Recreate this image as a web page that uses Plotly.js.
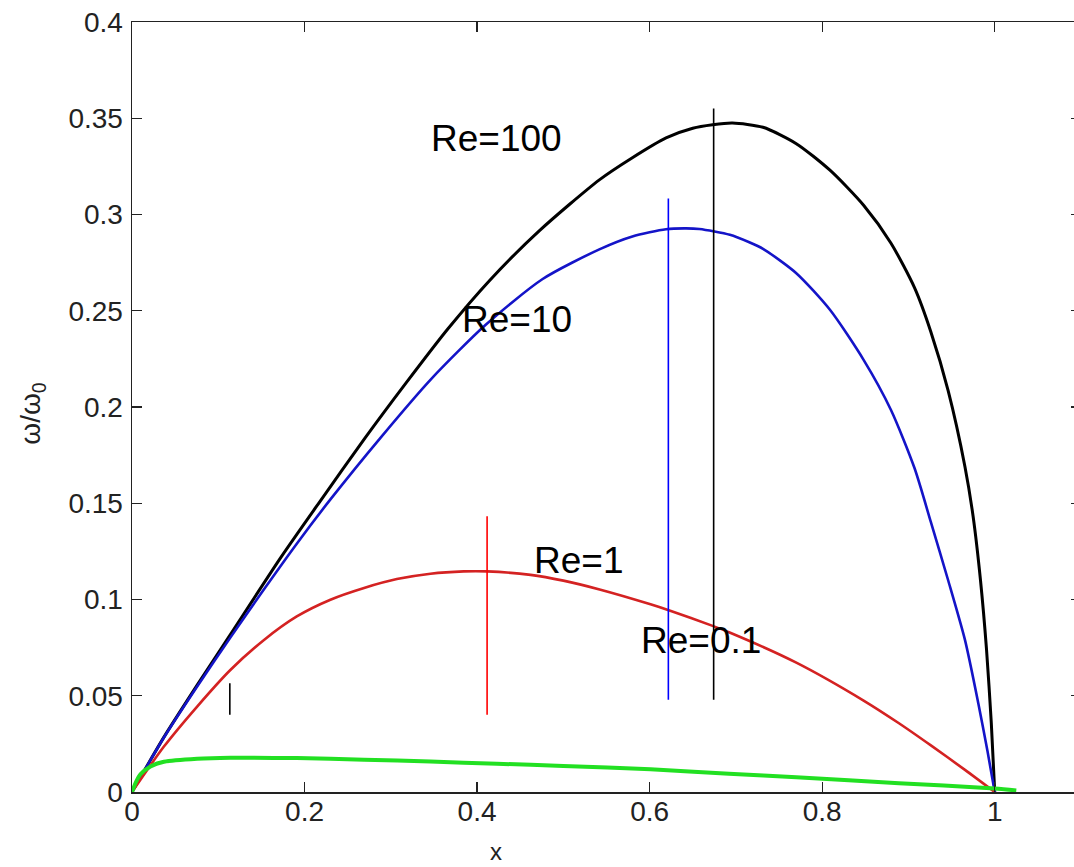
<!DOCTYPE html>
<html>
<head>
<meta charset="utf-8">
<script src="https://cdn.plot.ly/plotly-3.0.1.min.js"></script>
<style>
html, body { margin: 0; padding: 0; overflow: hidden; background: #fff; }
#chart { width: 1091px; height: 867px; }
</style>
</head>
<body>
<div id="chart"></div>
<script>
// Re = 100 (black)
const re100X = [0, 0.037, 0.0755, 0.114, 0.172, 0.218, 0.27, 0.3177, 0.366, 0.414, 0.472, 0.5417, 0.58, 0.619, 0.65, 0.673, 0.696, 0.7314, 0.770, 0.809, 0.848, 0.8796, 0.907, 0.926, 0.946, 0.9655, 0.975, 0.9835, 0.9905, 0.996, 1.0];
const re100Y = [0, 0.0285, 0.0555, 0.0818, 0.1215, 0.151, 0.1838, 0.2125, 0.2405, 0.2655, 0.2915, 0.318, 0.3295, 0.3398, 0.3448, 0.3466, 0.3475, 0.3453, 0.3368, 0.323, 0.3048, 0.2852, 0.262, 0.239, 0.2085, 0.169, 0.143, 0.110, 0.074, 0.036, 0];
// Re = 10 (blue)
const re10X = [0, 0.037, 0.0755, 0.114, 0.153, 0.191, 0.23, 0.288, 0.3467, 0.41, 0.476, 0.5417, 0.58, 0.619, 0.64, 0.6576, 0.693, 0.7155, 0.7314, 0.770, 0.809, 0.848, 0.8796, 0.907, 0.926, 0.946, 0.9655, 0.981, 0.9917, 1.0];
const re10Y = [0, 0.0283, 0.0548, 0.0802, 0.1053, 0.129, 0.152, 0.184, 0.2145, 0.2427, 0.2665, 0.2819, 0.2886, 0.2923, 0.2928, 0.2925, 0.2895, 0.2856, 0.2822, 0.2695, 0.2505, 0.2245, 0.1986, 0.1683, 0.1402, 0.110, 0.079, 0.046, 0.021, 0];
// Re = 1 (red)
const re1X = [0, 0.037, 0.0755, 0.114, 0.153, 0.191, 0.23, 0.269, 0.307, 0.346, 0.3845, 0.4115, 0.462, 0.5, 0.542, 0.601, 0.623, 0.673, 0.692, 0.770, 0.848, 0.889, 0.926, 0.9655, 1.0];
const re1Y = [0, 0.0236, 0.0444, 0.0634, 0.079, 0.0912, 0.0999, 0.106, 0.1106, 0.1134, 0.1146, 0.1146, 0.1128, 0.1098, 0.1052, 0.0975, 0.0943, 0.0863, 0.083, 0.0672, 0.0475, 0.0357, 0.0242, 0.0115, 0];
// Re = 0.1 (green)
const re01X = [0, 0.005, 0.0098, 0.0214, 0.037, 0.0755, 0.114, 0.191, 0.269, 0.346, 0.423, 0.5, 0.601, 0.692, 0.77, 0.889, 1.0, 1.025];
const re01Y = [0, 0.0055, 0.0092, 0.0133, 0.0157, 0.0173, 0.0178, 0.0176, 0.0168, 0.0158, 0.0147, 0.0135, 0.0118, 0.0095, 0.0076, 0.0046, 0.0018, 0.0008];

// vertical marker lines
const vlineX = [0.1134, 0.4116, 0.6217, 0.6742];
const vlineTop = [0.0565, 0.1432, 0.3083, 0.3551];
const vlineBottom = [0.0401, 0.0401, 0.0479, 0.0479];
const vlineColor = ['#000000', '#ff0000', '#0000ff', '#000000'];

// curve labels
const labelText = ['Re=100', 'Re=10', 'Re=1', 'Re=0.1'];
const labelX = [0.3445, 0.3804, 0.4635, 0.5875];
const labelY = [0.3394, 0.2455, 0.1202, 0.0785];

// ticks
const xTickVals = [0, 0.2, 0.4, 0.6, 0.8, 1];
const xTickText = ['0', '0.2', '0.4', '0.6', '0.8', '1'];
const yTickVals = [0, 0.05, 0.1, 0.15, 0.2, 0.25, 0.3, 0.35, 0.4];
const yTickText = ['0', '0.05', '0.1', '0.15', '0.2', '0.25', '0.3', '0.35', '0.4'];

const traces = [
  {x: re100X, y: re100Y, mode: 'lines', line: {color: '#000000', width: 3, shape: 'spline', smoothing: 0.7}},
  {x: re10X, y: re10Y, mode: 'lines', line: {color: '#1414c8', width: 2.6, shape: 'spline', smoothing: 0.7}},
  {x: re1X, y: re1Y, mode: 'lines', line: {color: '#d42222', width: 2.6, shape: 'spline', smoothing: 0.7}},
  {x: re01X, y: re01Y, mode: 'lines', line: {color: '#22e022', width: 4, shape: 'spline', smoothing: 0.7}}
];
for (let i = 0; i < vlineX.length; i++) {
  traces.push({x: [vlineX[i], vlineX[i]], y: [vlineBottom[i], vlineTop[i]], mode: 'lines',
    line: {color: vlineColor[i], width: 1.6}});
}

const font = {family: '"Liberation Sans", Arial, sans-serif', color: '#222222'};
const annotations = labelText.map((t, i) => ({
  text: t, x: labelX[i], y: labelY[i], xref: 'x', yref: 'y', showarrow: false,
  xanchor: 'left', yanchor: 'middle', font: Object.assign({}, font, {size: 37, color: '#000'})
}));
annotations.push({text: 'x', xref: 'x', yref: 'paper', x: 0.422, y: -0.0975, showarrow: false,
  xanchor: 'center', yanchor: 'bottom', font: Object.assign({}, font, {size: 24})});
annotations.push({text: 'ω/ω<sub>0</sub>', xref: 'paper', yref: 'paper', x: -0.1048, y: 0.492, showarrow: false,
  textangle: -90, xanchor: 'center', yanchor: 'middle', font: Object.assign({}, font, {size: 28})});

const axisCommon = {
  showline: true, linecolor: '#222', linewidth: 1.5, mirror: 'ticks',
  ticks: 'inside', ticklen: 10, tickwidth: 1.3, tickcolor: '#222',
  showgrid: false, zeroline: false, tickfont: Object.assign({}, font, {size: 28})
};

const layout = {
  width: 1091, height: 867,
  margin: {l: 132, r: 10, t: 22, b: 75},
  paper_bgcolor: '#fff', plot_bgcolor: '#fff',
  showlegend: false,
  xaxis: Object.assign({}, axisCommon, {range: [0, 1.1], tickvals: xTickVals, ticktext: xTickText, ticklabelstandoff: -6}),
  yaxis: Object.assign({}, axisCommon, {range: [0, 0.4], tickvals: yTickVals, ticktext: yTickText, ticklabelstandoff: 2}),
  annotations: annotations
};

Plotly.newPlot('chart', traces, layout, {staticPlot: true, displayModeBar: false});
</script>
</body>
</html>
